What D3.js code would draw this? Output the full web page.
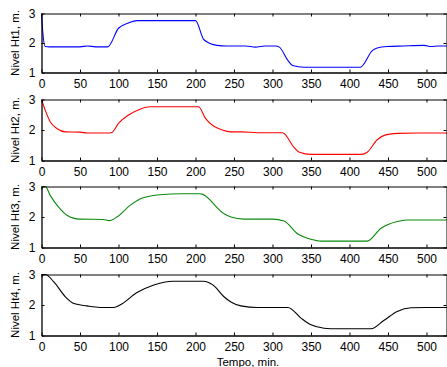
<!DOCTYPE html>
<html>
<head>
<meta charset="utf-8">
<script src="https://cdn.jsdelivr.net/npm/d3@7"></script>
<style>
  body { margin: 0; background: #fff; }
  text { font-family: "Liberation Sans", Arial, sans-serif; }
</style>
</head>
<body>
<div id="chart"></div>
<script>
// sample times (min) and levels (m)
const t1 = [0, 1.8, 4.8, 10, 50, 60, 70, 86, 100, 113, 124, 150, 200, 211, 228, 240, 265, 278, 290, 304, 309, 320, 326, 341, 380, 414, 430, 436, 449, 470, 497, 506, 515, 530];
const h1 = [3.0, 2.33, 1.88, 1.87, 1.87, 1.9, 1.87, 1.87, 2.5, 2.68, 2.76, 2.76, 2.76, 2.11, 1.92, 1.9, 1.9, 1.86, 1.9, 1.9, 1.86, 1.41, 1.24, 1.18, 1.18, 1.18, 1.75, 1.83, 1.88, 1.9, 1.92, 1.88, 1.9, 1.9];

const t2 = [0, 4.8, 11.3, 20, 30.8, 50, 60, 85, 91.4, 100, 113, 128, 141, 170, 204, 213, 235, 246, 260, 280, 313, 328, 335, 350, 380, 415, 423, 436, 447, 462, 490, 530];
const h2 = [3.0, 2.65, 2.27, 2.05, 1.94, 1.93, 1.9, 1.9, 1.92, 2.22, 2.49, 2.68, 2.76, 2.76, 2.76, 2.38, 2.0, 1.94, 1.94, 1.91, 1.91, 1.43, 1.27, 1.2, 1.2, 1.2, 1.27, 1.68, 1.84, 1.89, 1.9, 1.9];

const t3 = [0, 5, 11.3, 22, 33, 50, 80, 88, 98, 115, 132, 158, 180, 206, 237, 246, 263, 300, 315, 332, 350, 363, 390, 423, 441, 462, 475, 500, 530];
const h3 = [3.0, 3.0, 2.71, 2.33, 2.06, 1.93, 1.92, 1.88, 2.0, 2.38, 2.63, 2.74, 2.76, 2.76, 2.11, 2.0, 1.93, 1.93, 1.87, 1.46, 1.27, 1.21, 1.21, 1.21, 1.63, 1.85, 1.9, 1.9, 1.9];

const t4 = [0, 5, 16, 31, 42, 59, 76, 94, 102, 124, 145, 171, 190, 210, 223, 237, 246, 259, 281, 320, 337, 350, 367, 384, 428, 445, 462, 480, 500, 530];
const h4 = [3.0, 3.0, 2.76, 2.27, 2.05, 1.97, 1.92, 1.92, 2.0, 2.41, 2.65, 2.78, 2.78, 2.78, 2.65, 2.27, 2.1, 1.97, 1.92, 1.92, 1.57, 1.35, 1.24, 1.22, 1.22, 1.5, 1.79, 1.91, 1.92, 1.92];

const xTicks = [0, 50, 100, 150, 200, 250, 300, 350, 400, 450, 500];
const yTicks = [1, 2, 3];
const yLabels = ["Nivel Ht1, m.", "Nivel Ht2, m.", "Nivel Ht3, m.", "Nivel Ht4, m."];
const colors = ["#0000ff", "#ff0000", "#0a8a0a", "#000000"];

const series = [[t1, h1], [t2, h2], [t3, h3], [t4, h4]];

const width = 447, height = 367;
const left = 41.5, right = 446.5;
const tops = [13.5, 99.5, 186.5, 274.5];
const bottoms = [72.5, 160.5, 247.5, 335.5];

const svg = d3.select("#chart").append("svg")
    .attr("width", width)
    .attr("height", height);

const x = d3.scaleLinear().domain([0, 526]).range([left, right]);

series.forEach(function (s, i) {
    const y = d3.scaleLinear().domain([1, 3]).range([bottoms[i], tops[i]]);
    const g = svg.append("g");

    // data line
    const pts = s[0].map(function (t, k) { return [t, s[1][k]]; });
    g.append("path")
        .datum(pts)
        .attr("fill", "none")
        .attr("stroke", colors[i])
        .attr("stroke-width", 1.1)
        .attr("d", d3.line()
            .x(function (d) { return x(d[0]); })
            .y(function (d) { return y(d[1]); })
            .curve(d3.curveMonotoneX));

    // bottom axis with labels
    g.append("g")
        .attr("transform", "translate(0," + bottoms[i] + ")")
        .call(d3.axisBottom(x).tickValues(xTicks).tickSize(-3).tickPadding(7).tickSizeOuter(0))
        .call(function (a) { a.select(".domain").attr("stroke-width", 1.3); });
    // top axis (ticks only)
    g.append("g")
        .attr("transform", "translate(0," + tops[i] + ")")
        .call(d3.axisTop(x).tickValues(xTicks).tickSize(-3).tickFormat("").tickSizeOuter(0));
    // left axis
    g.append("g")
        .attr("transform", "translate(" + left + ",0)")
        .call(d3.axisLeft(y).tickValues(yTicks).tickSize(-3).tickPadding(6).tickFormat(d3.format("d")).tickSizeOuter(0))
        .call(function (a) { a.select(".domain").attr("stroke-width", 1.3); });
    // right axis
    g.append("g")
        .attr("transform", "translate(" + right + ",0)")
        .call(d3.axisRight(y).tickValues(yTicks).tickSize(-3).tickFormat("").tickSizeOuter(0));

    g.selectAll(".tick text")
        .attr("font-family", "Liberation Sans, Arial, sans-serif")
        .attr("font-size", "12px")
        .attr("fill", "#000");

    g.append("text")
        .attr("transform", "translate(19," + ((tops[i] + bottoms[i]) / 2) + ") rotate(-90)")
        .attr("text-anchor", "middle")
        .attr("font-size", "11.5px")
        .text(yLabels[i]);
});

svg.append("text")
    .attr("x", 248)
    .attr("y", 366)
    .attr("text-anchor", "middle")
    .attr("font-size", "11.5px")
    .text("Tempo, min.");
</script>
</body>
</html>
